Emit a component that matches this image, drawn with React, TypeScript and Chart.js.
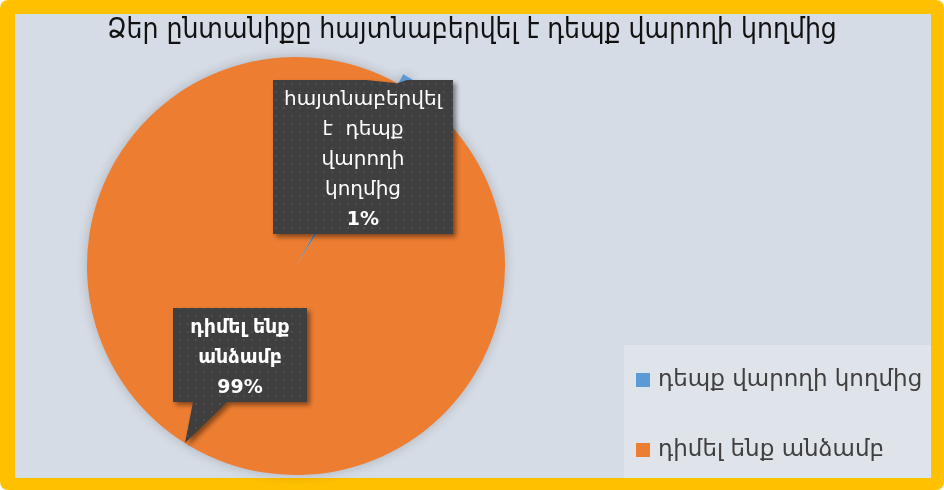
import React, { useEffect, useRef } from 'react';
import { Chart, registerables } from 'chart.js';

Chart.register(...registerables);

const TITLE = 'Ձեր ընտանիքը հայտնաբերվել է դեպք վարողի կողմից';
const categories = ['դեպք վարողի կողմից', 'դիմել ենք անձամբ'];
const values = [1, 99];
const percentLabels = ['1%', '99%'];
const calloutLines = [
  ['հայտնաբերվել', 'է  դեպք', 'վարողի', 'կողմից'],
  ['դիմել ենք', 'անձամբ'],
];
const sliceColors = ['#5B9BD5', '#ED7D31'];
const sliceOffsets = [22, 0];

const W = 944;
const H = 490;
const FONT = '"DejaVu Sans", sans-serif';
const TITLE_FONT = '"DejaVu Sans Condensed", "DejaVu Sans", sans-serif';

function roundRect(ctx: CanvasRenderingContext2D, x: number, y: number, w: number, h: number, r: number) {
  ctx.beginPath();
  ctx.moveTo(x + r, y);
  ctx.lineTo(x + w - r, y);
  ctx.quadraticCurveTo(x + w, y, x + w, y + r);
  ctx.lineTo(x + w, y + h - r);
  ctx.quadraticCurveTo(x + w, y + h, x + w - r, y + h);
  ctx.lineTo(x + r, y + h);
  ctx.quadraticCurveTo(x, y + h, x, y + h - r);
  ctx.lineTo(x, y + r);
  ctx.quadraticCurveTo(x, y, x + r, y);
  ctx.closePath();
}

function makePattern(ctx: CanvasRenderingContext2D) {
  const c = document.createElement('canvas');
  c.width = 8;
  c.height = 8;
  const p = c.getContext('2d')!;
  p.fillStyle = '#3f3f3f';
  p.fillRect(0, 0, 8, 8);
  p.fillStyle = '#4d4d4d';
  p.fillRect(3, 3, 2, 2);
  return ctx.createPattern(c, 'repeat');
}

function drawCallout(
  ctx: CanvasRenderingContext2D,
  box: { x: number; y: number; w: number; h: number },
  pointer: [number, number][],
) {
  ctx.save();
  ctx.shadowColor = 'rgba(0,0,0,0.45)';
  ctx.shadowBlur = 5;
  ctx.shadowOffsetX = 3;
  ctx.shadowOffsetY = 3;
  ctx.fillStyle = makePattern(ctx) || '#404040';
  ctx.beginPath();
  ctx.rect(box.x, box.y, box.w, box.h);
  ctx.moveTo(pointer[0][0], pointer[0][1]);
  ctx.lineTo(pointer[1][0], pointer[1][1]);
  ctx.lineTo(pointer[2][0], pointer[2][1]);
  ctx.closePath();
  ctx.fill('nonzero');
  ctx.restore();
}

const decorPlugin = {
  id: 'decor',
  beforeDraw(chart: any) {
    const ctx: CanvasRenderingContext2D = chart.ctx;
    ctx.save();
    ctx.fillStyle = '#ffffff';
    ctx.fillRect(0, 0, W, H);
    ctx.fillStyle = '#FFC000';
    roundRect(ctx, 0, 0, W, H, 9);
    ctx.fill();
    ctx.fillStyle = '#D6DCE5';
    ctx.fillRect(15, 14, 916, 464);
    ctx.fillStyle = '#DFE3EA';
    ctx.fillRect(624, 345, 307, 133);
    ctx.restore();
  },
  beforeDatasetsDraw(chart: any) {
    const ctx: CanvasRenderingContext2D = chart.ctx;
    ctx.save();
    ctx.shadowColor = 'rgba(0,0,0,0.2)';
    ctx.shadowBlur = 12;
  },
  afterDatasetsDraw(chart: any) {
    chart.ctx.restore();
  },
  afterDraw(chart: any) {
    const ctx: CanvasRenderingContext2D = chart.ctx;
    const meta = chart.getDatasetMeta(0);
    const arcs = meta.data;
    const cx = arcs[1].x;
    const cy = arcs[1].y;

    // title
    ctx.save();
    ctx.fillStyle = '#111111';
    ctx.font = `28px ${TITLE_FONT}`;
    ctx.textAlign = 'center';
    ctx.textBaseline = 'middle';
    ctx.fillText(TITLE, 472, 31);
    ctx.restore();

    // callout 1 (blue slice)
    const a0 = arcs[0];
    const ang = a0.startAngle;
    const tipR = a0.outerRadius;
    const tip: [number, number] = [a0.x + Math.cos(ang) * tipR, a0.y + Math.sin(ang) * tipR];
    const box1 = { x: cx - 23, y: cy - 186, w: 180, h: 154 };
    drawCallout(ctx, box1, [
      [cx + 70, box1.y],
      [tip[0], tip[1]],
      [cx + 111, box1.y],
    ]);
    ctx.save();
    ctx.fillStyle = '#ffffff';
    ctx.textAlign = 'center';
    ctx.textBaseline = 'middle';
    ctx.font = `20px ${FONT}`;
    const l1 = calloutLines[0];
    l1.forEach((t, i) => ctx.fillText(t, cx + 67, cy - 166 + i * 30));
    ctx.font = `bold 19px ${FONT}`;
    ctx.fillText(percentLabels[0], cx + 67, cy - 166 + l1.length * 30);
    ctx.restore();

    // callout 2 (orange slice)
    const box2 = { x: cx - 123, y: cy + 42, w: 134, h: 94 };
    drawCallout(ctx, box2, [
      [cx - 103, box2.y + box2.h],
      [cx - 111, cy + 177],
      [cx - 69, box2.y + box2.h],
    ]);
    ctx.save();
    ctx.fillStyle = '#ffffff';
    ctx.textAlign = 'center';
    ctx.textBaseline = 'middle';
    ctx.font = `bold 19px ${FONT}`;
    const l2 = calloutLines[1];
    const bx = box2.x + box2.w / 2;
    l2.forEach((t, i) => ctx.fillText(t, bx, cy + 62 + i * 30));
    ctx.fillText(percentLabels[1], bx, cy + 62 + l2.length * 30);
    ctx.restore();

    // legend
    ctx.save();
    ctx.font = `23px ${FONT}`;
    ctx.textBaseline = 'middle';
    ctx.textAlign = 'left';
    categories.forEach((c, i) => {
      const y = 380 + i * 70;
      ctx.fillStyle = sliceColors[i];
      ctx.fillRect(636, y - 7, 14, 14);
      ctx.fillStyle = '#404040';
      ctx.fillText(c, 658, y);
    });
    ctx.restore();
  },
};

export default function App() {
  const ref = useRef<HTMLCanvasElement | null>(null);
  useEffect(() => {
    document.body.style.margin = '0';
    const canvas = ref.current!;
    const chart = new Chart(canvas, {
      type: 'pie',
      data: {
        labels: categories,
        datasets: [
          {
            data: values,
            backgroundColor: sliceColors,
            borderWidth: 0,
            offset: sliceOffsets,
          },
        ],
      },
      options: {
        animation: false,
        responsive: false,
        rotation: 29,
        layout: { padding: { left: 76, right: 428, top: 46, bottom: 4 } },
        plugins: {
          legend: { display: false },
          tooltip: { enabled: false },
          title: { display: false },
        },
      },
      plugins: [decorPlugin],
    });
    return () => chart.destroy();
  }, []);
  return (
    <div style={{ width: W, height: H }}>
      <canvas ref={ref} width={W} height={H} style={{ display: 'block', width: W, height: H }} />
    </div>
  );
}
